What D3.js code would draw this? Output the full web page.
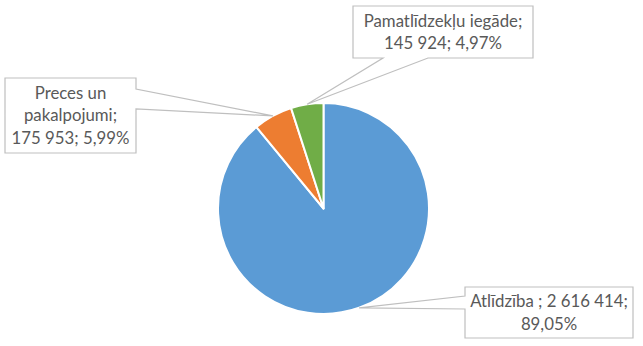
<!DOCTYPE html>
<html>
<head>
<meta charset="UTF-8">
<script src="https://d3js.org/d3.v7.min.js"></script>
<style>
  body { margin: 0; background: #fff; }
  text { font-family: Lato, "Noto Sans", sans-serif; fill: #595959; }
</style>
</head>
<body>
<svg id="chart" width="643" height="346"></svg>
<script>
// data
const categories = ["Atlīdzība ", "Preces un pakalpojumi", "Pamatlīdzekļu iegāde"];
const values = [2616414, 175953, 145924];
const percents = ["89,05%", "5,99%", "4,97%"];
const valueLabels = ["2 616 414", "175 953", "145 924"];
const colors = ["#5B9BD5", "#ED7D31", "#70AD47"];

// label text lines (as shown in chart)
const labelLines = [
    ["Atlīdzība ; 2 616 414;", "89,05%"],
    ["Preces un", "pakalpojumi;", "175 953; 5,99%"],
    ["Pamatlīdzekļu iegāde;", "145 924; 4,97%"]
];

// callout boxes: x, y, w, h, side of pointer, base of pointer
const boxes = [
    { x: 465, y: 287, w: 168, h: 51, side: "left", a: 296, b: 309 },
    { x: 5, y: 78, w: 131, h: 75, side: "right", a: 89, b: 109 },
    { x: 353, y: 6, w: 180, h: 52, side: "bottom", a: 383, b: 428 }
];

let cx = 323.5, cy = 208.5, r = 105.5;

let svg = d3.select("#chart");

let pie = d3.pie().sort(null).value(d => d);
let arcs = pie(values);
let arc = d3.arc().innerRadius(0).outerRadius(r);

let g = svg.append("g").attr("transform", `translate(${cx},${cy})`);

g.selectAll("path")
    .data(arcs)
    .enter()
    .append("path")
    .attr("d", arc)
    .attr("fill", (d, i) => colors[i])
    .attr("stroke", "#fff")
    .attr("stroke-width", 2)
    .attr("stroke-linejoin", "round");

function calloutPath(bx, tip) {
    let x0 = bx.x, y0 = bx.y, x1 = bx.x + bx.w, y1 = bx.y + bx.h;
    let p = [[x0, y0], [x1, y0]];
    if (bx.side === "right") p.push([x1, bx.a], tip, [x1, bx.b]);
    p.push([x1, y1]);
    if (bx.side === "bottom") p.push([bx.b, y1], tip, [bx.a, y1]);
    p.push([x0, y1]);
    if (bx.side === "left") p.push([x0, bx.b], tip, [x0, bx.a]);
    return "M" + p.map(q => q.join(",")).join("L") + "Z";
}

arcs.forEach((d, i) => {
    let mid = (d.startAngle + d.endAngle) / 2;
    let tip = [cx + r * Math.sin(mid), cy - r * Math.cos(mid)];
    let bx = boxes[i];

    svg.append("path")
        .attr("d", calloutPath(bx, tip))
        .attr("fill", "#fff")
        .attr("stroke", "#BFBFBF")
        .attr("stroke-width", 1.2);

    let lines = labelLines[i];
    let lh = 22.5;
    let startY = bx.y + bx.h / 2 - (lines.length - 1) * lh / 2;
    let t = svg.append("text")
        .attr("text-anchor", "middle")
        .style("font-size", "16.8px");
    lines.forEach((ln, j) => {
        t.append("tspan")
            .attr("x", bx.x + bx.w / 2)
            .attr("y", startY + j * lh)
            .attr("dy", "0.35em")
            .text(ln);
    });
});
</script>
</body>
</html>
